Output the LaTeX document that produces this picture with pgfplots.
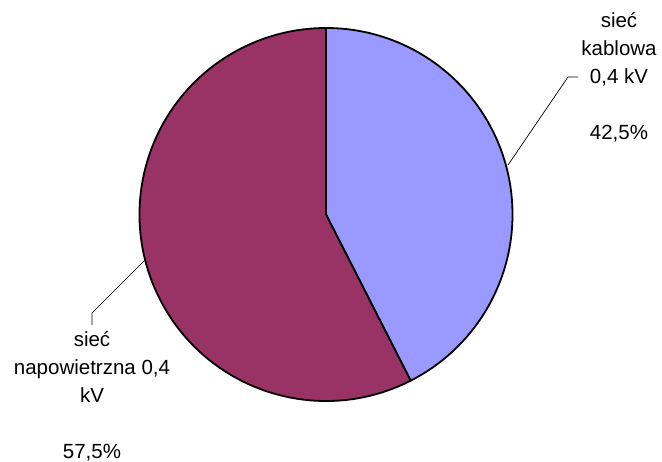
\documentclass[border=0pt]{standalone}
\usepackage{pgfplots}
\usepackage{pgfplotstable}
\pgfplotsset{compat=1.18}
\usepackage{fontspec}
\setmainfont{Liberation Sans}
\definecolor{sliceA}{HTML}{9999FF}
\definecolor{sliceB}{HTML}{993366}
\pgfplotstableread[col sep=comma]{
name,value
kablowa,42.5
napowietrzna,57.5
}\piedata
\begin{document}
\begin{tikzpicture}
\pgfplotstablegetelem{0}{value}\of\piedata
\let\va\pgfplotsretval
\pgfplotstablegetelem{1}{value}\of\piedata
\let\vb\pgfplotsretval
\pgfmathsetmacro{\angA}{90-3.6*\va}
\pgfmathsetmacro{\angB}{\angA-3.6*\vb}
\begin{axis}[
  width=662bp, height=462bp, scale only axis,
  xmin=0, xmax=662, ymin=0, ymax=462,
  hide axis, clip=false,
]
\path (axis cs:0,0) rectangle (axis cs:662,462);
\filldraw[fill=sliceA, draw=black, line width=1.8bp, line join=round]
  (axis cs:326,247.5) -- ++(90:186.5bp) arc[start angle=90, end angle=\angA, radius=186.5bp] -- cycle;
\filldraw[fill=sliceB, draw=black, line width=1.8bp, line join=round]
  (axis cs:326,247.5) -- ++(\angA:186.5bp) arc[start angle=\angA, end angle=\angB, radius=186.5bp] -- cycle;
% leader lines
\draw[black, line width=0.7bp] (axis cs:578,385) -- (axis cs:568,385) -- (axis cs:508,297);
\draw[black, line width=0.7bp] (axis cs:92,137) -- (axis cs:92,149) -- (axis cs:145,202);
% labels
\node[align=center, inner sep=0pt, font=\fontsize{20.5bp}{28bp}\selectfont]
  at (axis cs:619,384.5) {sieć\\kablowa\\0,4 kV\\[28bp]42,5\%};
\node[align=center, inner sep=0pt, font=\fontsize{20.5bp}{28bp}\selectfont]
  at (axis cs:92,66) {sieć\\napowietrzna 0,4\\kV\\[28bp]57,5\%};
\end{axis}
\end{tikzpicture}
\end{document}
